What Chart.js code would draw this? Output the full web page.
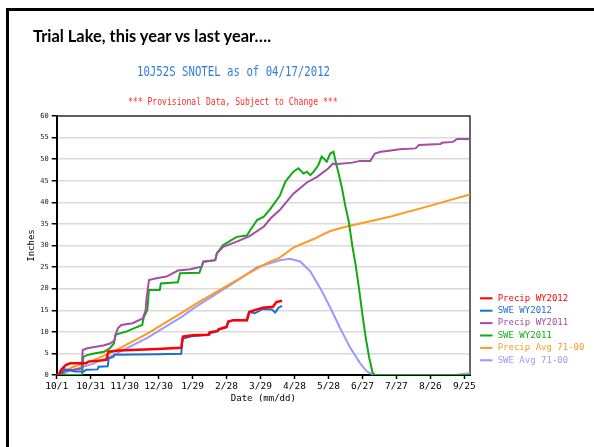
<!DOCTYPE html>
<html>
<head>
<meta charset="utf-8">
<title>Trial Lake, this year vs last year</title>
<script src="https://cdn.jsdelivr.net/npm/chart.js@4.4.1/dist/chart.umd.min.js"></script>
<style>
    html, body { margin: 0; padding: 0; background: #fff; }
    body { width: 594px; height: 447px; position: relative; overflow: hidden; }
    #frame { position: absolute; left: 6px; top: 8px; width: 700px; height: 600px; border-left: 3px solid #000; border-top: 3px solid #000; }
    #slideTitle { position: absolute; left: 33px; top: 28px; font: bold 16.4px Lato, sans-serif; line-height: 1; color: #000; white-space: nowrap; z-index: 2; }
    .hdr { position: absolute; font-family: 'DejaVu Sans Mono', monospace; white-space: nowrap; transform-origin: left center; transform: scaleY(1.3); z-index: 2; }
    #station { left: 137px; top: 65px; font-size: 10.7px; color: #2f7ddb; }
    #provisional { left: 128px; top: 96px; font-size: 8.1px; color: #ff2a2a; }
    #snotelChart { position: absolute; left: 0; top: 0; z-index: 1; }
</style>
</head>
<body>
<div id="frame"></div>
<div id="slideTitle">Trial Lake, this year vs last year….</div>
<div id="station" class="hdr">10J52S SNOTEL as of 04/17/2012</div>
<div id="provisional" class="hdr">*** Provisional Data, Subject to Change ***</div>
<canvas id="snotelChart" width="594" height="447"></canvas>
<script>
// x axis: days since 10/1 of the water year
const tickDays = [0, 30, 60, 90, 120, 150, 180, 210, 240, 270, 300, 330, 360]
const tickLabels = ['10/1', '10/31', '11/30', '12/30', '1/29', '2/28', '3/29', '4/28', '5/28', '6/27', '7/27', '8/26', '9/25']

const seriesLabels = ['Precip WY2012', 'SWE WY2012', 'Precip WY2011', 'SWE WY2011', 'Precip Avg 71-00', 'SWE Avg 71-00']

const precip2012Days = [0, 2, 4, 8, 12, 26, 28, 44, 45.5, 55, 89, 110, 111.5, 120, 134, 135, 142, 143, 150, 151.5, 156, 168, 170, 177, 182, 191, 194, 199]
const precip2012Values = [0, 0.2, 1.2, 2.3, 2.7, 2.7, 3.1, 3.5, 5.4, 5.7, 6.0, 6.3, 8.9, 9.2, 9.3, 9.9, 10.2, 10.6, 11.2, 12.3, 12.7, 12.7, 14.6, 15.2, 15.6, 15.8, 16.9, 17.2]

const swe2012Days = [0, 4, 7, 12, 16, 24, 26, 36, 37, 45, 46, 50, 51, 90, 110, 111, 120, 135, 136, 142, 143, 150, 151.5, 156, 168, 170, 175, 182, 190, 193, 196, 199]
const swe2012Values = [0, 0.5, 1.3, 1.1, 0.8, 0.8, 1.2, 1.3, 1.9, 2.0, 3.9, 4.2, 4.7, 4.8, 4.9, 8.4, 9.0, 9.4, 9.7, 10.1, 10.5, 11.0, 12.5, 12.7, 12.7, 14.6, 14.3, 15.3, 15.2, 14.5, 15.6, 16.0]

const precip2011Days = [0, 4, 8, 15, 22, 23, 27, 36, 42, 47, 51, 52, 54, 57, 67, 76, 78.5, 79.5, 81.5, 88, 97, 107, 118, 128, 129.5, 140, 141.5, 147, 159, 170, 183, 189, 197, 209, 221, 230, 240, 244, 246, 261, 268, 277, 281, 286, 292, 303, 317, 320, 339, 340, 350, 353.5, 365]
const precip2011Values = [0, 0.5, 1.0, 1.2, 1.5, 5.8, 6.2, 6.6, 6.9, 7.3, 8.0, 9.3, 10.8, 11.6, 12.0, 13.1, 15.0, 18.1, 22.0, 22.4, 22.8, 24.2, 24.5, 25.1, 26.3, 26.6, 28.2, 29.7, 30.9, 32.1, 34.4, 36.3, 38.2, 42.0, 44.6, 45.9, 47.9, 49.0, 48.8, 49.2, 49.6, 49.6, 51.3, 51.7, 51.9, 52.3, 52.5, 53.3, 53.5, 53.8, 54.0, 54.7, 54.7]

const swe2011Days = [0, 3, 6, 10, 22.5, 23.5, 27, 33, 42, 47, 50.5, 52, 56.5, 61, 68, 75.5, 77, 80, 81.5, 91, 92, 107, 109, 126, 129.5, 140, 141.5, 147, 159, 168, 171, 177, 183, 189, 197, 202, 209, 213.5, 218, 221, 224, 227, 231, 234, 238.5, 241.5, 244.5, 246, 249, 252, 255, 258, 261, 264, 267, 270, 273, 276, 279, 281, 365]
const swe2011Values = [0, 0.3, 0.2, 0, 0, 4.2, 4.6, 5.0, 5.4, 6.2, 7.3, 9.3, 9.7, 10.0, 10.8, 11.6, 13.5, 15.0, 19.7, 19.7, 21.2, 21.5, 23.6, 23.7, 26.2, 26.6, 28.2, 30.1, 32.0, 32.3, 33.6, 35.9, 36.7, 38.6, 41.5, 44.8, 47.1, 47.9, 46.7, 47.1, 46.3, 47.1, 48.6, 50.6, 49.4, 51.3, 51.7, 49.8, 46.7, 43.2, 39.0, 35.5, 30.0, 25.5, 20.0, 14.0, 8.5, 4.0, 0.5, 0, 0]

const precipAvgDays = [0, 15, 24, 33, 50, 80, 111, 121, 159, 180, 188, 197, 209, 227, 241, 256, 268, 295, 327, 365]
const precipAvgValues = [0, 1.9, 2.7, 3.5, 5.4, 9.6, 14.5, 16.2, 22.0, 25.1, 26.2, 27.2, 29.5, 31.5, 33.3, 34.4, 35.1, 36.7, 39.0, 41.8]

const sweAvgDays = [0, 15, 33, 50, 80, 111, 121, 159, 177, 197, 206, 215, 224, 233, 242, 250, 259, 268, 274, 280, 352, 365]
const sweAvgValues = [0, 1.2, 2.7, 4.6, 8.6, 13.6, 15.5, 21.8, 25.0, 26.6, 26.9, 26.3, 24.0, 20.0, 15.4, 11.0, 6.4, 2.7, 0.8, 0, 0, 0.4]

const seriesDays = [precip2012Days, swe2012Days, precip2011Days, swe2011Days, precipAvgDays, sweAvgDays]
const seriesValues = [precip2012Values, swe2012Values, precip2011Values, swe2011Values, precipAvgValues, sweAvgValues]

const SERIES_COLORS = ['#ff0000', '#1a6fd0', '#a64ca6', '#11aa11', '#ff9922', '#9999ff']
const SERIES_WIDTHS = [2.5, 2, 2, 2, 2, 2]

// top and right edges of the plot box (left/bottom come from the axes)
const plotFrame = {
    id: 'plotFrame',
    beforeDatasetsDraw(chart) {
        const { ctx, chartArea } = chart
        ctx.save()
        ctx.strokeStyle = '#333'
        ctx.lineWidth = 1.5
        ctx.beginPath()
        ctx.moveTo(chartArea.left, chartArea.top)
        ctx.lineTo(chartArea.right, chartArea.top)
        ctx.lineTo(chartArea.right, chartArea.bottom)
        ctx.stroke()
        ctx.restore()
    }
}

// key in the lower right, outside the plot, text coloured like its line
const seriesKey = {
    id: 'seriesKey',
    afterDraw(chart) {
        const { ctx, chartArea } = chart
        const x = chartArea.right + 10
        const rowHeight = 12.4
        const firstY = chartArea.bottom - 76.7
        ctx.save()
        ctx.font = "9px 'DejaVu Sans Mono', monospace"
        ctx.textBaseline = 'middle'
        chart.data.datasets.forEach((ds, i) => {
            const y = firstY + i * rowHeight
            ctx.strokeStyle = ds.borderColor
            ctx.lineWidth = 2
            ctx.beginPath()
            ctx.moveTo(x, y)
            ctx.lineTo(x + 12.5, y)
            ctx.stroke()
            ctx.fillStyle = ds.borderColor
            ctx.fillText(ds.label, x + 17.7, y)
        })
        ctx.restore()
    }
}

Chart.defaults.font.family = "'DejaVu Sans Mono', monospace"
Chart.defaults.color = '#000'

const datasets = seriesLabels.map((label, i) => ({
    label: label,
    data: seriesDays[i].map((day, j) => ({ x: day, y: seriesValues[i][j] })),
    borderColor: SERIES_COLORS[i],
    backgroundColor: SERIES_COLORS[i],
    borderWidth: SERIES_WIDTHS[i],
    pointRadius: 0,
    tension: 0
}))

new Chart(document.getElementById('snotelChart'), {
    type: 'line',
    data: { datasets: datasets },
    plugins: [plotFrame, seriesKey],
    options: {
        responsive: false,
        animation: false,
        events: [],
        layout: { padding: { top: 116, left: 10, right: 124, bottom: 40 } },
        scales: {
            x: {
                type: 'linear',
                min: 0,
                max: 365,
                afterBuildTicks: scale => { scale.ticks = tickDays.map(v => ({ value: v })) },
                afterFit: scale => { scale.height = 32 },
                ticks: {
                    autoSkip: false,
                    maxRotation: 0,
                    padding: 1.5,
                    font: { size: 9.5 },
                    callback: value => tickLabels[tickDays.indexOf(value)]
                },
                grid: { drawOnChartArea: false, tickColor: '#000', tickLength: 4, tickWidth: 1.5 },
                border: { color: '#000', width: 2 },
                title: { display: true, text: 'Date (mm/dd)', font: { size: 9 }, padding: { top: 0, bottom: 2.6 } }
            },
            y: {
                min: 0,
                max: 60,
                afterFit: scale => { scale.width = 46.7 },
                ticks: { stepSize: 5, padding: 3, font: { size: 7 }, color: '#222' },
                grid: { color: '#dadada', lineWidth: 1.5, tickColor: '#000', tickLength: 5 },
                border: { color: '#000', width: 2 },
                title: { display: true, text: 'Inches', font: { size: 9 }, padding: { top: 16, bottom: 0 } }
            }
        },
        plugins: {
            tooltip: { enabled: false },
            legend: { display: false }
        }
    }
})
</script>
</body>
</html>
